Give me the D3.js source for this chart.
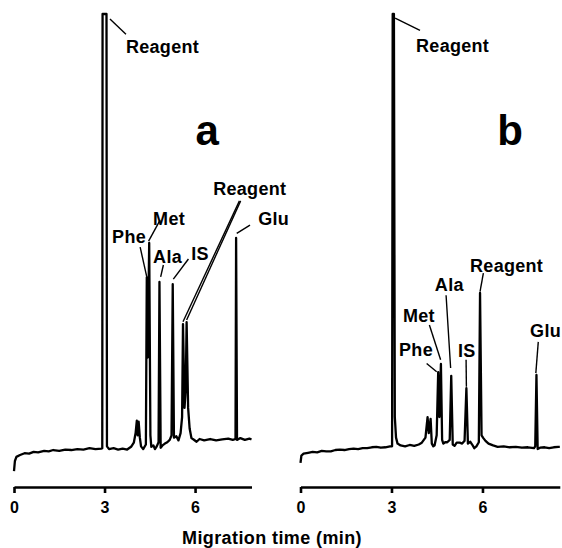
<!DOCTYPE html>
<meta charset="utf-8">
<script src="https://d3js.org/d3.v7.min.js"></script>
<style>
  body { margin: 0; background: #fff; }
  text { font-family: "Liberation Sans", Arial, Helvetica, sans-serif; font-weight: bold; fill: #000; }
</style>
<div id="chart"></div>
<script>
// electropherogram a: [migration time (min), signal (arb. units)]
const traceA = [
  [0.00, 0.2], [0.03, 2.4], [0.08, 3.3], [0.20, 3.7], [0.35, 4.1], [0.50, 4.0],
  [0.65, 4.4], [0.80, 4.3], [1.00, 4.6], [1.15, 4.5], [1.30, 4.8], [1.50, 4.6],
  [1.70, 4.9], [1.90, 4.8], [2.10, 5.0], [2.30, 4.9], [2.50, 5.2], [2.70, 5.0],
  [2.90, 5.1], [2.925, 5.2], [2.935, 100], [3.065, 100], [3.08, 5.6],
  [3.15, 5.0], [3.30, 5.2], [3.45, 4.9], [3.60, 5.1], [3.75, 4.9], [3.88, 5.5],
  [3.97, 6.4], [4.03, 8.5], [4.07, 11.2], [4.10, 8.0], [4.13, 11.0], [4.17, 7.5],
  [4.21, 5.6], [4.28, 5.0], [4.37, 6.0], [4.40, 42.5], [4.43, 25.0], [4.48, 50.0],
  [4.52, 8.0], [4.55, 5.5], [4.62, 5.8], [4.67, 5.0], [4.73, 5.6], [4.79, 6.5],
  [4.82, 41.5], [4.86, 5.3], [4.92, 5.8], [5.00, 6.2], [5.08, 6.5], [5.16, 7.0],
  [5.22, 8.0], [5.26, 41.0], [5.30, 7.5], [5.38, 7.8], [5.45, 6.9], [5.52, 8.5],
  [5.57, 12.0], [5.60, 32.3], [5.65, 14.0], [5.69, 18.0], [5.72, 32.7], [5.77, 14.0],
  [5.82, 9.5], [5.88, 7.4], [5.95, 7.1], [6.05, 6.6], [6.15, 7.2], [6.30, 6.9],
  [6.50, 7.2], [6.70, 6.9], [6.90, 7.1], [7.10, 7.3], [7.25, 7.0], [7.34, 7.2],
  [7.36, 51.1], [7.39, 7.0], [7.50, 7.4], [7.65, 7.0], [7.80, 7.3], [7.87, 7.1]
];

// electropherogram b
const traceB = [
  [0.00, 2.0], [0.03, 3.6], [0.10, 4.0], [0.25, 4.2], [0.40, 4.4], [0.55, 4.3],
  [0.70, 4.6], [0.85, 4.5], [1.00, 4.5], [1.15, 4.8], [1.30, 4.9], [1.45, 4.8],
  [1.60, 5.0], [1.75, 5.1], [1.90, 5.0], [2.05, 5.2], [2.20, 5.2], [2.35, 5.4],
  [2.50, 5.5], [2.65, 5.3], [2.80, 5.4], [2.95, 5.6], [3.02, 5.6], [3.04, 100],
  [3.08, 100], [3.11, 12.0], [3.15, 7.5], [3.20, 6.2], [3.30, 5.8], [3.45, 5.6],
  [3.60, 5.9], [3.75, 5.7], [3.90, 6.0], [4.00, 6.4], [4.12, 7.5], [4.19, 12.0],
  [4.23, 8.5], [4.29, 11.6], [4.33, 6.2], [4.38, 5.6], [4.42, 5.8], [4.49, 8.0],
  [4.54, 21.8], [4.58, 12.0], [4.63, 23.6], [4.67, 7.0], [4.71, 6.2], [4.77, 6.5],
  [4.84, 6.5], [4.92, 7.0], [4.97, 21.0], [5.02, 6.0], [5.08, 5.7], [5.15, 6.4],
  [5.25, 6.4], [5.33, 6.2], [5.41, 6.8], [5.47, 18.3], [5.52, 6.2], [5.60, 6.6],
  [5.66, 6.0], [5.73, 5.2], [5.80, 5.6], [5.88, 6.5], [5.92, 39.1], [5.97, 8.0],
  [6.03, 7.4], [6.10, 6.8], [6.20, 6.2], [6.35, 5.8], [6.50, 5.5], [6.70, 5.6],
  [6.90, 5.4], [7.10, 5.5], [7.30, 5.3], [7.50, 5.4], [7.70, 5.2], [7.74, 5.6],
  [7.78, 21.2], [7.82, 5.0], [7.90, 5.3], [8.05, 5.4], [8.20, 5.2], [8.35, 5.4],
  [8.50, 5.5], [8.55, 5.5]
];

const tickValues = [0, 3, 6];
const panelNames = ["a", "b"];
const xLabel = "Migration time (min)";

// peak labels, in data units: text anchor [t, s] and leader lines [t1, s1, t2, s2]
const peakLabelsA = [
  { text: "Reagent", at: [3.71, 91.5], lines: [[3.18, 98.9, 3.71, 95.6]] },
  { text: "Met", at: [4.61, 53.9], lines: [[4.84, 55.0, 4.46, 50.4]] },
  { text: "Phe", at: [3.25, 50.0], lines: [[4.18, 49.1, 4.40, 42.6]] },
  { text: "Ala", at: [4.61, 45.6], lines: [[4.95, 45.2, 4.86, 42.6]] },
  { text: "IS", at: [5.87, 46.3], lines: [[5.78, 46.5, 5.28, 42.1]] },
  { text: "Reagent", at: [6.60, 60.5], lines: [[7.47, 59.2, 5.60, 32.8], [7.51, 59.2, 5.72, 33.2]] },
  { text: "Glu", at: [8.09, 53.9], lines: [[7.82, 53.9, 7.38, 52.1]] }
];
const peakLabelsB = [
  { text: "Reagent", at: [3.81, 91.7], lines: [[3.12, 99.1, 3.94, 96.4]] },
  { text: "Reagent", at: [5.59, 43.7], lines: [[6.03, 43.4, 5.92, 39.4]] },
  { text: "Ala", at: [4.43, 39.5], lines: [[4.80, 38.6, 4.95, 22.7]] },
  { text: "Met", at: [3.38, 32.8], lines: [[4.25, 32.1, 4.62, 24.5]] },
  { text: "Phe", at: [3.25, 25.3], lines: [[4.16, 23.7, 4.49, 21.9]] },
  { text: "IS", at: [5.19, 25.1], lines: [[5.46, 24.5, 5.47, 18.6]] },
  { text: "Glu", at: [7.57, 29.5], lines: [[7.84, 28.4, 7.76, 21.6]] }
];
const panelLetterPos = [[6.40, 71.4], [6.91, 71.4]];

const W = 562, H = 548;
const svg = d3.select("#chart").append("svg")
  .attr("width", W).attr("height", H);

const y = d3.scaleLinear().domain([0, 100]).range([472, 14]);
const xA = d3.scaleLinear().domain([0, 7.87]).range([14, 251.5]);
const xB = d3.scaleLinear().domain([0, 8.55]).range([300.5, 559.8]);

const panels = [
  { x: xA, trace: traceA, labels: peakLabelsA },
  { x: xB, trace: traceB, labels: peakLabelsB }
];

panels.forEach((p, i) => {
  const g = svg.append("g");

  // trace
  const line = d3.line().x(d => p.x(d[0])).y(d => y(d[1]));
  g.append("path")
    .datum(p.trace)
    .attr("d", line)
    .attr("fill", "none")
    .attr("stroke", "#000")
    .attr("stroke-width", 2.3)
    .attr("stroke-linejoin", "round");

  // axis
  const ax = g.append("g")
    .attr("transform", "translate(0,487)")
    .call(d3.axisBottom(p.x).tickValues(tickValues).tickSize(6)
      .tickSizeOuter(0).tickPadding(9).tickFormat(d3.format("d")));
  ax.select(".domain").attr("stroke-width", 2.6);
  ax.selectAll(".tick line").attr("stroke-width", 2.6);
  ax.selectAll(".tick text")
    .style("font-size", "16px")
    .style("font-family", "'Liberation Sans', Arial, sans-serif")
    .style("font-weight", "bold");

  // leader lines
  p.labels.forEach(l => {
    l.lines.forEach(s => {
      g.append("line")
        .attr("x1", p.x(s[0])).attr("y1", y(s[1]))
        .attr("x2", p.x(s[2])).attr("y2", y(s[3]))
        .attr("stroke", "#000").attr("stroke-width", 1.4);
    });
    g.append("text")
      .attr("x", p.x(l.at[0])).attr("y", y(l.at[1]))
      .style("font-size", "18px")
      .style("letter-spacing", "0.3px")
      .text(l.text);
  });

  // panel letter
  g.append("text")
    .attr("x", p.x(panelLetterPos[i][0])).attr("y", y(panelLetterPos[i][1]))
    .attr("text-anchor", "middle")
    .style("font-size", "42px")
    .text(panelNames[i]);
});

// x axis title
svg.append("text")
  .attr("x", 272).attr("y", 544)
  .attr("text-anchor", "middle")
  .style("font-size", "18px")
  .style("letter-spacing", "0.4px")
  .text(xLabel);
</script>
